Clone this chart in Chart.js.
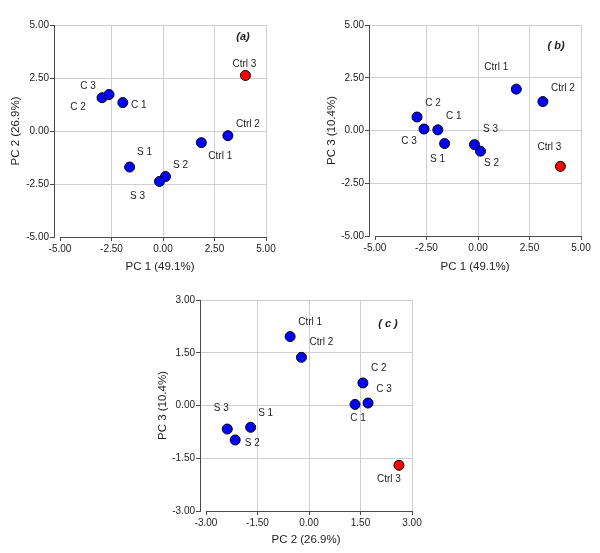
<!DOCTYPE html>
<html>
<head>
<meta charset="utf-8">
<script src="https://cdn.jsdelivr.net/npm/chart.js@4.4.1/dist/chart.umd.min.js"></script>
<style>
  html, body { margin: 0; padding: 0; background: #fff; }
  body { width: 600px; height: 553px; position: relative; overflow: hidden; }
  canvas { position: absolute; }
</style>
</head>
<body>
<canvas id="pa" style="left:0px;top:0px;width:290px;height:280px" width="290" height="280"></canvas>
<canvas id="pb" style="left:315px;top:0px;width:285px;height:280px" width="285" height="280"></canvas>
<canvas id="pc" style="left:146px;top:275px;width:290px;height:278px" width="290" height="278"></canvas>
<script>
(function() {
    'use strict';

    // PCA scores
    var samples = ['C 1', 'C 2', 'C 3', 'S 1', 'S 2', 'S 3', 'Ctrl 1', 'Ctrl 2', 'Ctrl 3'];
    var pc1 = [-1.95, -2.96, -2.62, -1.62, 0.12, -0.17, 1.86, 3.15, 4.00];
    var pc2 = [1.34, 1.57, 1.72, -1.70, -2.15, -2.38, -0.55, -0.22, 2.62];
    var pc3 = [0.03, 0.64, 0.07, -0.62, -0.98, -0.67, 1.96, 1.37, -1.70];
    var highlighted = 'Ctrl 3';

    // tick labels
    var ticksWide = [-5, -2.5, 0, 2.5, 5];
    var ticksNarrow = [-3, -1.5, 0, 1.5, 3];

    var gridColor = '#cfcfcf';
    var axisColor = '#4a4a4a';
    var textColor = '#222';

    Chart.defaults.font.family = '"Liberation Sans", Arial, sans-serif';
    Chart.defaults.font.size = 10;
    Chart.defaults.color = textColor;

    // draws point labels, offset x axis line and panel tag
    var pcaDecor = {
        id: 'pcaDecor',
        afterDatasetsDraw: function(chart, args, opts) {
            var ctx = chart.ctx;
            var xs = chart.scales.x;
            var area = chart.chartArea;
            var meta = chart.getDatasetMeta(0);

            ctx.save();
            ctx.strokeStyle = axisColor;
            ctx.lineWidth = 1;
            var yb = Math.round(area.bottom) + 0.5;
            ctx.beginPath();
            ctx.moveTo(xs.getPixelForValue(opts.lo), yb);
            ctx.lineTo(xs.getPixelForValue(opts.hi) + 0.5, yb);
            ctx.stroke();

            ctx.fillStyle = textColor;
            ctx.font = '10px "Liberation Sans", Arial, sans-serif';
            ctx.textAlign = 'center';
            ctx.textBaseline = 'middle';
            meta.data.forEach(function(pt, i) {
                var off = opts.offsets[i];
                ctx.fillText(samples[i], pt.x + off[0], pt.y + off[1]);
            });

            ctx.font = 'italic bold 11px "Liberation Sans", Arial, sans-serif';
            ctx.fillText(opts.tag, area.right - opts.tagPos[0], area.top + opts.tagPos[1]);
            ctx.restore();
        }
    };

    function makeChart(id, xv, yv, cfg) {
        var lo = cfg.ticks[0];
        var hi = cfg.ticks[cfg.ticks.length - 1];
        // y axis sits a few px left of the lowest x tick
        var xMin = lo - (hi - lo) * cfg.gap / (cfg.plotW - cfg.gap);

        var points = xv.map(function(v, i) { return { x: v, y: yv[i] }; });
        var fills = samples.map(function(s) { return s === highlighted ? '#ff0000' : '#0000ff'; });

        function fixTicks(scale) {
            scale.ticks = cfg.ticks.map(function(v) { return { value: v }; });
        }

        return new Chart(document.getElementById(id), {
            type: 'scatter',
            data: {
                datasets: [{
                    data: points,
                    pointRadius: 5,
                    pointHoverRadius: 5,
                    pointBackgroundColor: fills,
                    pointBorderColor: '#000',
                    pointBorderWidth: 1
                }]
            },
            options: {
                responsive: false,
                animation: false,
                events: [],
                layout: { padding: { left: 0, top: 25, right: cfg.padRight, bottom: 0 } },
                plugins: {
                    legend: { display: false },
                    tooltip: { enabled: false },
                    pcaDecor: { lo: lo, hi: hi, offsets: cfg.offsets, tag: cfg.tag, tagPos: cfg.tagPos }
                },
                scales: {
                    x: {
                        type: 'linear',
                        min: xMin,
                        max: hi,
                        afterBuildTicks: fixTicks,
                        afterFit: function(scale) { scale.height = cfg.xH; },
                        border: { display: false },
                        grid: {
                            color: function(c) { return c.tick && c.tick.value === lo ? 'rgba(0,0,0,0)' : gridColor; },
                            tickColor: axisColor,
                            tickLength: 4
                        },
                        ticks: {
                            autoSkip: false,
                            maxRotation: 0,
                            padding: 2,
                            callback: function(v) { return Number(v).toFixed(2); }
                        },
                        title: {
                            display: true,
                            text: cfg.xTitle,
                            font: { size: 11.5 },
                            padding: { top: 0, bottom: 6 }
                        }
                    },
                    y: {
                        type: 'linear',
                        min: lo === -5 ? -5 : lo,
                        max: hi,
                        afterBuildTicks: fixTicks,
                        afterFit: function(scale) { scale.width = 54; },
                        border: { display: true, color: axisColor, width: 1 },
                        grid: {
                            color: function(c) { return c.tick && c.tick.value === lo ? 'rgba(0,0,0,0)' : gridColor; },
                            tickColor: axisColor,
                            tickLength: 4
                        },
                        ticks: {
                            autoSkip: false,
                            padding: 1,
                            callback: function(v) { return Number(v).toFixed(2); }
                        },
                        title: {
                            display: true,
                            text: cfg.yTitle,
                            font: { size: 11.5 },
                            padding: { top: cfg.yTitlePad, bottom: 0 }
                        }
                    }
                }
            },
            plugins: [pcaDecor]
        });
    }

    // (a) PC1 vs PC2
    makeChart('pa', pc1, pc2, {
        ticks: ticksWide, gap: 6, plotW: 212, padRight: 24, xH: 43,
        xTitle: 'PC 1 (49.1%)', yTitle: 'PC 2 (26.9%)', yTitlePad: 9,
        tag: '(a)', tagPos: [23, 12],
        offsets: [[16, 3], [-24, 10], [-21, -8], [15, -15], [15, -11], [-22, 15], [19, 14], [20, -11], [-1, -11]]
    });

    // (b) PC1 vs PC3
    makeChart('pb', pc1, pc3, {
        ticks: ticksWide, gap: 6, plotW: 212, padRight: 19, xH: 44,
        xTitle: 'PC 1 (49.1%)', yTitle: 'PC 3 (10.4%)', yTitlePad: 10,
        tag: '( b)', tagPos: [25, 21],
        offsets: [[16, -14], [16, -14], [-15, 12], [-7, 16], [11, 12], [16, -15], [-20, -22], [20, -13], [-11, -19]]
    });

    // (c) PC2 vs PC3
    makeChart('pc', pc2, pc3, {
        ticks: ticksNarrow, gap: 6, plotW: 212, padRight: 24, xH: 42,
        xTitle: 'PC 2 (26.9%)', yTitle: 'PC 3 (10.4%)', yTitlePad: 10,
        tag: '( c )', tagPos: [24, 24],
        offsets: [[3, 14], [16, -15], [16, -14], [15, -14], [17, 3], [-6, -21], [20, -14], [20, -15], [-10, 14]]
    });
})();
</script>
</body>
</html>
